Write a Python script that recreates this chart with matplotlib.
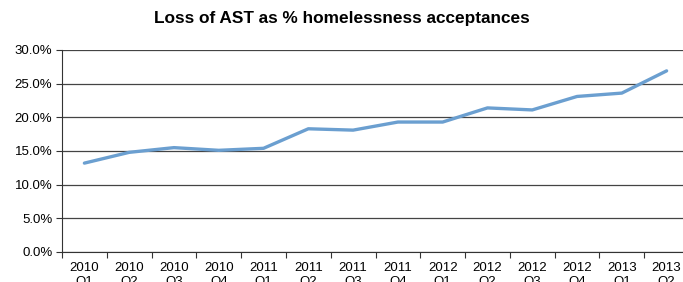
import numpy as np
import matplotlib.pyplot as plt
from matplotlib.ticker import FuncFormatter, FixedLocator

plt.rcParams['font.family'] = ['Liberation Sans', 'DejaVu Sans']

# quarters and values (percent)
quarters = ['2010\nQ1', '2010\nQ2', '2010\nQ3', '2010\nQ4',
            '2011\nQ1', '2011\nQ2', '2011\nQ3', '2011\nQ4',
            '2012\nQ1', '2012\nQ2', '2012\nQ3', '2012\nQ4',
            '2013\nQ1', '2013\nQ2']
loss_ast = [13.2, 14.8, 15.5, 15.1, 15.4, 18.3, 18.1, 19.3,
            19.3, 21.4, 21.1, 23.1, 23.6, 26.9]

fig = plt.figure(figsize=(6.83, 2.82), dpi=100)
ax = fig.add_axes([62 / 683, 1 - 252 / 282, 627 / 683, 202 / 282])

x = np.arange(len(quarters))
ax.plot(x, loss_ast, color='#6b9fd0', linewidth=2.4, solid_capstyle='round', zorder=3)

ax.set_xlim(-0.5, len(quarters) - 0.5)
ax.set_ylim(0, 30)
ax.set_yticks(np.arange(0, 31, 5))
ax.yaxis.set_major_formatter(FuncFormatter(lambda v, p: '%.1f%%' % v))
ax.yaxis.grid(True, color='#444444', linewidth=0.9)
ax.set_axisbelow(True)

# category labels at centres, tick marks between categories
ax.set_xticks(x)
ax.set_xticklabels(quarters)
ax.xaxis.set_minor_locator(FixedLocator(np.arange(-0.5, len(quarters), 1)))
ax.tick_params(axis='x', which='major', length=0, pad=7, labelsize=9.5)
ax.tick_params(axis='x', which='minor', length=4, width=0.8, color='#333333')
ax.tick_params(axis='y', length=4, width=0.8, color='#333333', labelsize=9.5, pad=3)

for s in ['top', 'right']:
    ax.spines[s].set_visible(False)
ax.spines['left'].set_color('#333333')
ax.spines['bottom'].set_color('#333333')

fig.text(0.5, 1 - 19 / 282, 'Loss of AST as % homelessness acceptances',
         ha='center', va='center', fontsize=12.4, fontweight='bold')

fig.savefig('out.png', dpi=100)
